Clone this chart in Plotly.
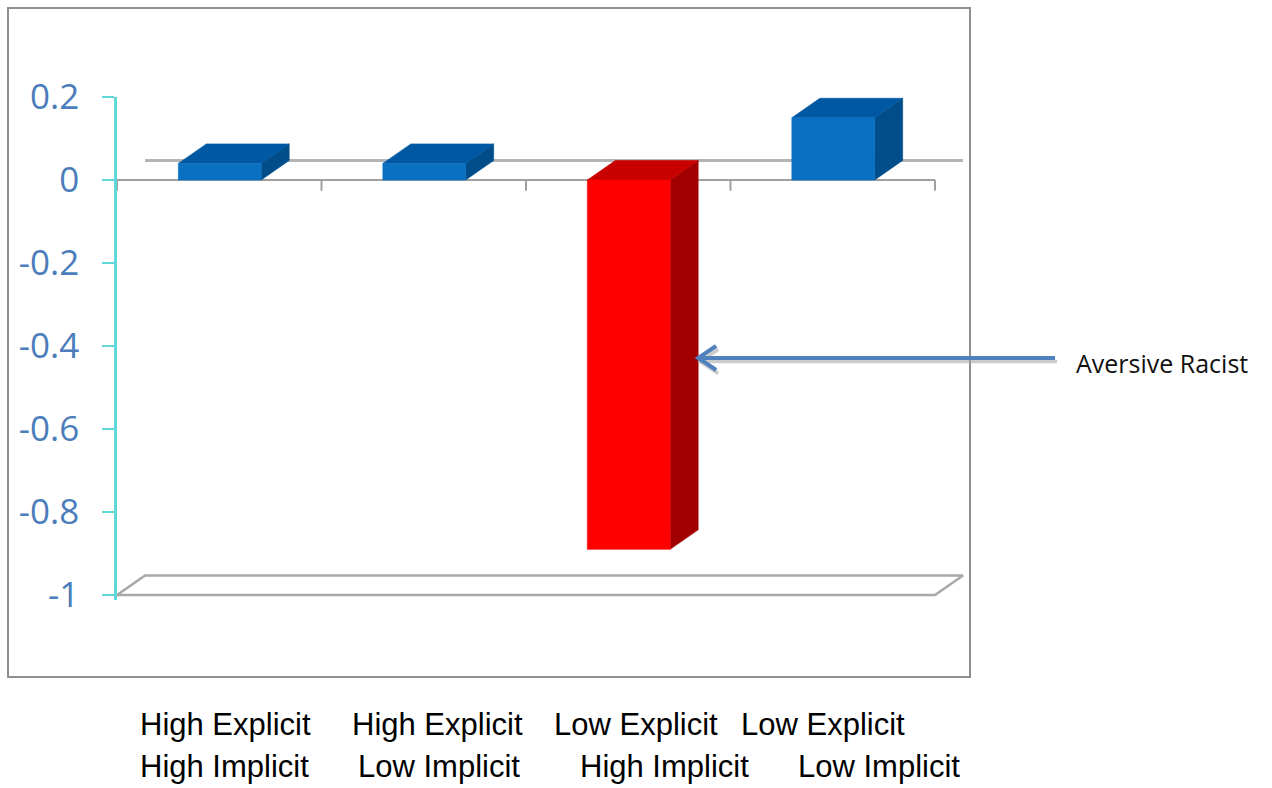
import plotly.graph_objects as go

# ---- data -------------------------------------------------------------
explicit_level = ["High Explicit", "High Explicit", "Low Explicit", "Low Explicit"]
implicit_level = ["High Implicit", "Low Implicit", "High Implicit", "Low Implicit"]
values = [0.04, 0.04, -0.89, 0.15]
y_ticks = [0.2, 0, -0.2, -0.4, -0.6, -0.8, -1]
y_tick_text = ["0.2", "0", "-0.2", "-0.4", "-0.6", "-0.8", "-1"]
highlight_label = "Aversive Racist"
highlight_index = 2

# ---- geometry / style -------------------------------------------------
W, H = 1272, 788
M_L, M_R, M_T, M_B = 117, 0, 97, 188
PX_PER_CAT = 204.5          # horizontal pixels per category slot
PX_PER_UNIT = 415.0         # vertical pixels per value unit
plot_w = W - M_L - M_R
plot_h = H - M_T - M_B
y_top = 0.2
y_bottom = y_top - plot_h / PX_PER_UNIT
x_max = plot_w / PX_PER_CAT

BAR_OFF = 0.30              # left edge of a bar inside its slot
BAR_W = 0.405
DX = 28 / PX_PER_CAT        # 3-D depth offset (x)
DY = 19.5 / PX_PER_UNIT     # 3-D depth offset (y)

BLUE = ("#0A70C2", "#0058A2", "#004D8A")   # front, top, side
RED = ("#FF0000", "#C80000", "#A20000")
GRID = "#B4B4B4"
AXIS_CYAN = "#5FD8D8"
TICK_BLUE = "#4A7DBA"
ARROW = "#4F81BD"


def px_x(px):
    return (px - M_L) / plot_w


def px_y(py):
    return (H - M_B - py) / plot_h


fig = go.Figure()


def poly(xs, ys, color, line_color=None, width=0.6, fill=True):
    fig.add_trace(go.Scatter(
        x=list(xs) + [xs[0]], y=list(ys) + [ys[0]],
        mode="lines", fill="toself" if fill else "none",
        fillcolor=color, line=dict(color=line_color or color, width=width),
        hoverinfo="skip", showlegend=False))


n = len(values)

# back wall line at zero
fig.add_trace(go.Scatter(x=[DX, n + DX], y=[DY, DY], mode="lines",
                         line=dict(color=GRID, width=3), hoverinfo="skip",
                         showlegend=False))

# floor at the axis minimum
floor = y_ticks[-1]
poly([0, n, n + DX, DX], [floor, floor, floor + DY, floor + DY],
     "rgba(0,0,0,0)", line_color="#A8A8A8", width=2.5, fill=False)

# category axis along zero with tick marks between slots
cat_x, cat_y = [0, n], [0, 0]
for k in range(n + 1):
    cat_x += [None, k, k]
    cat_y += [None, 0, -0.026]
fig.add_trace(go.Scatter(x=cat_x, y=cat_y, mode="lines",
                         line=dict(color="#A0A0A0", width=2),
                         hoverinfo="skip", showlegend=False))

# 3-D columns
for i, v in enumerate(values):
    front, top, side = RED if i == highlight_index else BLUE
    x0 = i + BAR_OFF
    x1 = x0 + BAR_W
    hi, lo = max(v, 0), min(v, 0)
    # side face
    poly([x1, x1 + DX, x1 + DX, x1], [lo, lo + DY, hi + DY, hi], side)
    # top face
    poly([x0, x1, x1 + DX, x0 + DX], [hi, hi, hi + DY, hi + DY], top)
    # front face
    poly([x0, x1, x1, x0], [lo, lo, hi, hi], front)

# call-out arrow pointing at the highlighted column
tip_x = highlight_index + BAR_OFF + BAR_W + DX
arrow_y = -0.429
tail_x = (1055 - M_L) / PX_PER_CAT
arm_dx = 18 / PX_PER_CAT
arm_dy = 12 / PX_PER_UNIT
sh_dx, sh_dy = 2 / PX_PER_CAT, -3.5 / PX_PER_UNIT
for ox, oy, col, wd in [(sh_dx, sh_dy, "rgba(160,160,160,0.55)", 3.5),
                        (0, 0, ARROW, 4)]:
    fig.add_trace(go.Scatter(
        x=[tail_x + ox, tip_x + ox, None,
           tip_x + arm_dx + ox, tip_x + ox, tip_x + arm_dx + ox],
        y=[arrow_y + oy, arrow_y + oy, None,
           arrow_y + arm_dy + oy, arrow_y + oy, arrow_y - arm_dy + oy],
        mode="lines", line=dict(color=col, width=wd),
        hoverinfo="skip", showlegend=False))

annotations = [dict(
    text=highlight_label, xref="paper", yref="paper",
    x=px_x(1074), y=px_y(363), xanchor="left", yanchor="middle",
    showarrow=False, font=dict(family="Open Sans", size=25, color="#111111"))]

# two-line category captions under the chart
row1_left = [138, 350, 552, 739]
row2_left = [138, 356, 578, 796]
for i in range(n):
    annotations.append(dict(
        text=explicit_level[i], xref="paper", yref="paper",
        x=px_x(row1_left[i]), y=px_y(724), xanchor="left", yanchor="middle",
        showarrow=False, font=dict(family="Liberation Sans", size=31, color="#000000")))
    annotations.append(dict(
        text=implicit_level[i], xref="paper", yref="paper",
        x=px_x(row2_left[i]), y=px_y(766), xanchor="left", yanchor="middle",
        showarrow=False, font=dict(family="Liberation Sans", size=31, color="#000000")))

# outer chart frame
shapes = [dict(type="rect", xref="paper", yref="paper",
               x0=px_x(8), x1=px_x(970), y0=px_y(677), y1=px_y(8),
               line=dict(color="#8E8E8E", width=2), fillcolor="rgba(0,0,0,0)",
               layer="below")]

fig.update_layout(
    width=W, height=H,
    margin=dict(l=M_L, r=M_R, t=M_T, b=M_B, autoexpand=False),
    paper_bgcolor="white", plot_bgcolor="white",
    showlegend=False, hovermode=False,
    xaxis=dict(range=[0, x_max], visible=False, fixedrange=True),
    yaxis=dict(range=[y_bottom, y_top], tickvals=y_ticks, ticktext=y_tick_text,
               showgrid=False, zeroline=False, showline=True,
               linecolor=AXIS_CYAN, linewidth=2.5,
               ticks="outside", ticklen=12, tickwidth=2, tickcolor=AXIS_CYAN,
               ticklabelstandoff=16,
               tickfont=dict(family="Open Sans", size=35, color=TICK_BLUE),
               fixedrange=True),
    annotations=annotations, shapes=shapes,
)

fig.write_html("out.html", config={"displayModeBar": False})
